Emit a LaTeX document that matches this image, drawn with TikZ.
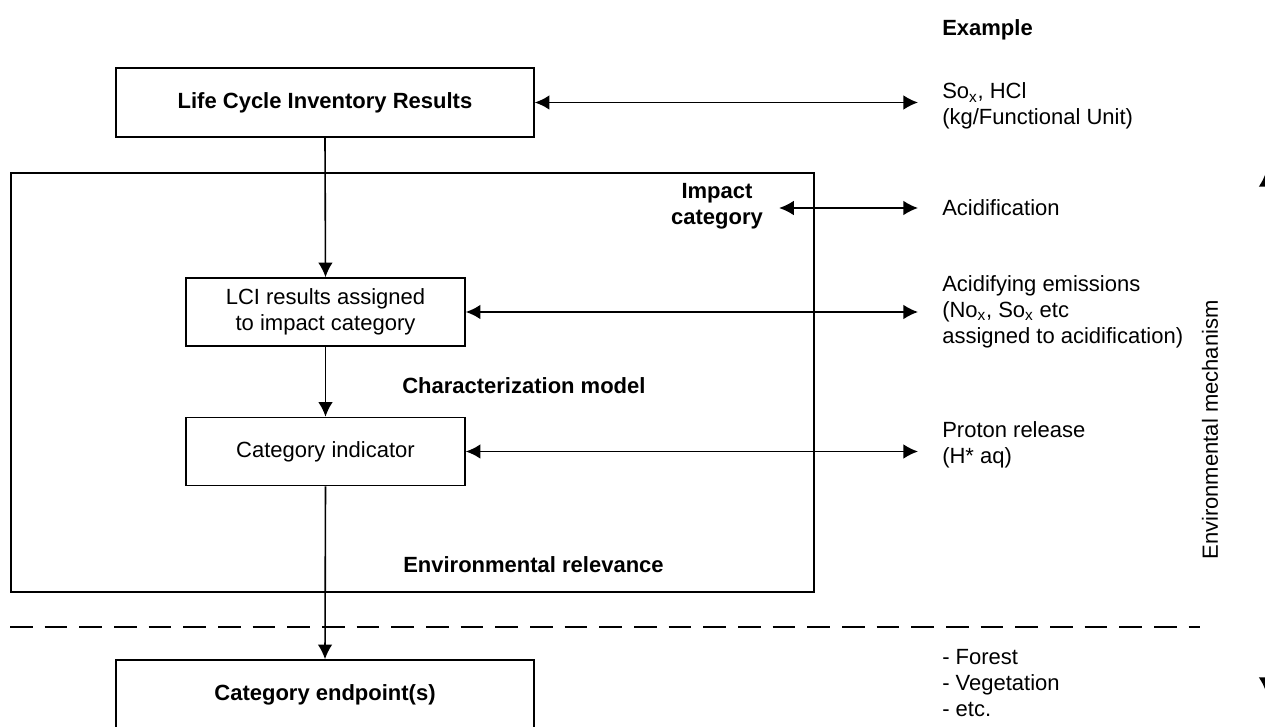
\documentclass[tikz,border=0pt]{standalone}
\usepackage{fontspec}
\setmainfont{Liberation Sans}
\usetikzlibrary{arrows.meta}
\newcommand{\lcafont}{\fontsize{16.5pt}{19.5pt}\selectfont}

\begin{document}
\begin{tikzpicture}[x=0.75pt,y=0.75pt,yscale=-1,xscale=1,
  every node/.style={font=\lcafont},
  bigbox/.style={draw,line width=1.2pt,minimum width=313.5pt,minimum height=51.75pt,inner sep=0pt,font=\lcafont\bfseries},
  smallbox/.style={draw,line width=1.2pt,minimum width=209.25pt,minimum height=51pt,inner sep=0pt,align=center},
  note/.style={anchor=west,inner xsep=18pt,inner ysep=0pt,align=left},
  label/.style={inner sep=0pt,font=\lcafont\bfseries,align=center},
  link/.style={line width=1.2pt,-{Latex[length=11pt,width=11pt]}},
  dbl/.style={line width=1.2pt,{Latex[length=11pt,width=11pt]}-{Latex[length=11pt,width=11pt]}}
]

\clip (0,0) rectangle (1265,727);

\draw[line width=1.2pt] (11,173) rectangle (814,592);

\draw[line width=1.7pt,dash pattern=on 17pt off 9pt] (10,627) -- (1200,627);

\node[bigbox] (lcires) at (325,102.5) {Life Cycle Inventory Results};

\node[smallbox] (lci) at (325.5,312) {LCI results assigned\\to impact category};

\node[smallbox] (catind) at (325.5,451.5) {Category indicator};

\node[bigbox] (endpt) at (325,694.5) {Category endpoint(s)};

\node[label] (impact) at (717,206) {Impact\\category};

\node[label,anchor=west] (charmod) at (402,386) {Characterization model};

\node[label,anchor=west] (envrel) at (403,565) {Environmental relevance};

\node[note,font=\lcafont\bfseries] (example) at (918,30) {Example};

\node[note] (sox) at (918,106) {So\textsubscript{x}, HCl\\(kg/Functional Unit)};

\node[note] (acid) at (918,208) {Acidification};

\node[note] (emis) at (918,311.5) {Acidifying emissions\\(No\textsubscript{x}, So\textsubscript{x} etc\\assigned to acidification)};

\node[note] (proton) at (918,445) {Proton release\\(H* aq)};

\node[note] (forest) at (918,683) {- Forest\\- Vegetation\\- etc.};

\node[inner sep=0pt,rotate=90] (mech) at (1210,430) {Environmental mechanism};

\coordinate (mtop) at (1266,172);

\coordinate (mbot) at (1266,692);

\draw[link] (lcires.south) -- (lci.north);

\draw[link] (lci.south) -- (catind.north);

\draw[link] (catind.south) -- (endpt.north);

\draw[dbl] (lcires.east) -- (lcires.east -| sox.west);

\draw[dbl] ([xshift=12pt]impact.east |- acid.west) -- (acid.west);

\draw[dbl] (lci.east) -- (lci.east -| emis.west);

\draw[dbl] (catind.east) -- (catind.east -| proton.west);

\draw[dbl] (mtop) -- (mbot);

\end{tikzpicture}
\end{document}
